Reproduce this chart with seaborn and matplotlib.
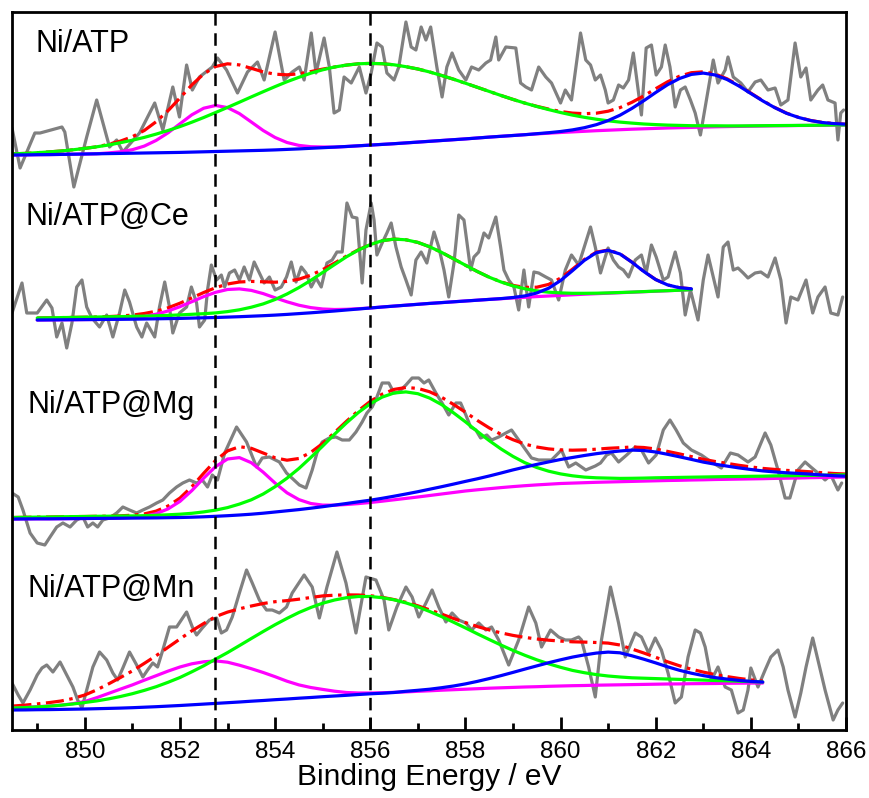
import numpy as np
import matplotlib
matplotlib.use("Agg")
import matplotlib.pyplot as plt
import seaborn as sns

# ---------------------------------------------------------------- data
STEP = 0.25  # eV sampling of the fitted curves
VLINES = [852.73, 856.0]
X_TICKS = [850, 852, 854, 856, 858, 860, 862, 864, 866]
X_MINOR = [849, 851, 853, 855, 857, 859, 861, 863, 865]
LABELS = ["Ni/ATP", "Ni/ATP@Ce", "Ni/ATP@Mg", "Ni/ATP@Mn"]

# ---- Ni/ATP : raw spectrum (binding energy, intensity)
atp_raw = [(848.47,602),(848.64,562),(848.95,597),(849.06,597),(849.52,603),(849.58,598),(849.77,543),(850.04,593),
 (850.25,630),(850.52,583),(850.67,590),(850.80,578),(851.15,597),(851.47,627),(851.64,600),(851.85,643),(851.99,613),
 (852.14,665),(852.26,640),(852.41,653),(852.68,663),(852.79,672),(852.98,660),(853.21,637),(853.42,658),(853.63,668),
 (853.77,650),(854.00,698),(854.19,650),(854.36,658),(854.51,663),(854.61,650),(854.76,697),(854.86,657),(855.03,692),
 (855.14,663),(855.24,617),(855.35,620),(855.45,653),(855.60,647),(855.77,663),(855.91,637),(856.02,657),(856.14,687),
 (856.25,683),(856.35,657),(856.50,650),(856.60,663),(856.75,708),(856.86,683),(856.96,680),(857.07,703),(857.17,690),
 (857.27,703),(857.40,663),(857.51,633),(857.61,663),(857.72,677),(857.86,660),(858.01,650),(858.13,663),(858.28,660),
 (858.43,667),(858.53,670),(858.64,693),(858.70,670),(858.85,683),(859.06,682),(859.16,647),(859.27,643),(859.39,640),
 (859.54,663),(859.69,653),(859.81,647),(860.00,627),(860.10,640),(860.23,630),(860.42,697),(860.53,670),(860.63,665),
 (860.73,650),(860.84,655),(860.94,640),(861.00,627),(861.11,630),(861.22,645),(861.32,642),(861.43,650),(861.53,677),
 (861.64,637),(861.70,615),(861.80,682),(861.91,685),(862.01,655),(862.12,663),(862.20,685),(862.30,663),(862.41,623),
 (862.52,640),(862.62,643),(862.73,630),(862.83,617),(862.94,595),(863.04,623),(863.21,670),(863.31,647),(863.46,660),
 (863.52,673),(863.63,653),(863.79,647),(863.94,638),(864.09,648),(864.21,650),(864.36,640),(864.51,642),(864.63,625),
 (864.78,630),(864.93,687),(865.05,653),(865.16,662),(865.26,630),(865.41,640),(865.51,645),(865.62,630),(865.77,627),
 (865.83,590),(865.89,617),(865.95,620)]
atp_fit_range = (848.5, 866.0)
atp_baseline = [575.0,575.1,575.3,575.4,575.6,575.8,576.0,
 576.2,576.4,576.6,576.8,577.0,577.2,577.4,577.6,
 577.9,578.2,578.5,578.8,579.1,579.4,579.7,580.1,
 580.6,581.1,581.7,582.3,582.9,583.5,584.2,584.9,
 585.6,586.3,587.1,587.9,588.7,589.5,590.3,591.1,
 592.0,592.9,593.7,594.5,595.3,596.1,596.8,597.5,
 598.1,598.7,599.3,599.8,600.3,600.8,601.2,601.6,
 602.0,602.3,602.6,602.9,603.2,603.4,603.6,603.8,
 604.0,604.2,604.3,604.5,604.6,604.7,604.9,605.0]
atp_ni0 = (850.5, [0.7,1.6,3.5,6.9,12.4,19.8,28.6,37.3,43.6,46.0,43.6,37.3,28.6,19.8,12.4,6.9,3.5,1.6,0.7])
atp_ni2 = (848.5, [1.2,1.5,2.0,2.7,3.4,4.4,5.6,7.0,8.6,10.7,
 13.0,15.6,18.7,22.1,25.8,29.9,34.3,39.0,43.8,48.7,
 53.7,58.6,63.3,67.7,71.6,75.1,77.9,80.1,81.4,82.0,
 81.7,80.7,78.9,76.2,73.1,69.3,65.0,60.5,55.7,50.7,
 45.7,40.8,36.1,31.6,27.4,23.6,20.0,16.8,14.0,11.5,
 9.4,7.6,6.1,4.8,3.8,2.9,2.3,1.7,1.3,1.0,
 0.7,0.5,0.4,0.3,0.2,0.2,0.1,0.1,0.1,0.1,0.0])
atp_sat = (859.5, [0.2,0.5,1.0,2.0,3.6,6.0,9.6,14.5,20.8,28.1,35.9,43.3,49.2,53.0,54.0,51.8,47.1,40.4,
 32.7,25.1,18.2,12.4,8.1,4.9,2.8,1.5,0.8])

# ---- Ni/ATP@Ce
ce_raw = [(848.47,417),(848.68,447),(848.78,417),(849.00,417),(849.20,430),(849.31,422),(849.41,393),(849.52,407),
 (849.62,382),(849.73,407),(849.83,443),(849.94,450),(850.04,423),(850.15,412),(850.31,403),(850.46,415),(850.59,393),
 (850.73,417),(850.84,440),(850.94,428),(851.09,403),(851.20,393),(851.30,407),(851.47,393),(851.57,423),(851.68,448),
 (851.78,423),(851.85,397),(851.99,417),(852.14,423),(852.24,443),(852.35,427),(852.41,403),(852.52,410),(852.58,440),
 (852.66,465),(852.77,450),(852.87,455),(852.94,443),(853.04,457),(853.15,460),(853.25,450),(853.35,463),(853.46,450),
 (853.56,468),(853.67,457),(853.77,447),(853.88,453),(854.00,440),(854.13,443),(854.24,453),(854.34,468),(854.44,448),
 (854.55,463),(854.65,457),(854.76,443),(854.86,452),(854.97,443),(855.09,467),(855.20,470),(855.30,478),(855.41,478),
 (855.51,527),(855.62,513),(855.72,512),(855.83,447),(855.91,500),(856.02,527),(856.08,510),(856.14,475),(856.25,487),
 (856.35,497),(856.44,507),(856.54,483),(856.65,463),(856.75,450),(856.86,435),(856.96,470),(857.07,478),(857.19,467),
 (857.34,498),(857.44,483),(857.55,460),(857.65,433),(857.76,467),(857.86,515),(857.97,510),(858.11,460),(858.18,473),
 (858.28,478),(858.39,497),(858.49,492),(858.64,513),(858.74,483),(858.81,460),(858.91,450),(859.02,443),(859.12,420),
 (859.23,460),(859.33,423),(859.44,458),(859.54,457),(859.69,453),(859.81,450),(859.96,430),(860.10,460),(860.23,475),
 (860.38,465),(860.63,503),(860.73,483),(860.84,457),(860.94,473),(861.00,482),(861.11,470),(861.22,463),(861.32,460),
 (861.43,453),(861.57,470),(861.70,475),(861.80,457),(861.91,485),(862.01,473),(862.16,450),(862.26,453),(862.41,478),
 (862.52,457),(862.62,415),(862.73,440),(862.89,410),(863.00,450),(863.10,475),(863.21,453),(863.31,433),(863.42,483),
 (863.52,488),(863.63,460),(863.73,462),(863.84,457),(863.94,452),(864.09,457),(864.21,458),(864.36,453),(864.51,472),
 (864.63,450),(864.74,407),(864.84,433),(864.99,430),(865.16,450),(865.30,417),(865.41,433),(865.56,443),(865.68,417),
 (865.83,415),(865.93,433)]
ce_fit_range = (849.0, 862.75)
ce_baseline = [410.0,410.1,410.2,410.3,410.4,
 410.5,410.6,410.7,410.8,411.0,411.2,411.4,411.6,
 411.9,412.2,412.5,412.9,413.3,413.8,414.3,414.9,
 415.6,416.4,417.2,418.1,419.0,420.0,421.0,422.0,
 423.0,423.9,424.8,425.7,426.6,427.4,428.2,429.0,
 429.8,430.6,431.3,432.0,432.7,433.4,434.0,434.6,
 435.2,435.8,436.3,436.8,437.3,437.8,438.3,438.8,
 439.3,439.8,440.3]
ce_ni0 = (850.5, [0.2,0.6,1.3,2.6,4.6,7.6,11.7,16.4,21.2,25.2,27.6,27.8,25.8,22.1,17.3,12.6,8.4,5.2,2.9,1.5,0.7,0.3])
ce_ni2 = (849.0, [2.0,2.1,2.2,2.3,2.4,2.5,2.6,2.7,2.8,2.9,
 3.0,3.2,3.5,3.8,4.1,4.6,5.5,6.9,9.0,11.8,
 15.6,20.4,26.0,32.4,39.4,46.4,53.2,58.9,63.4,66.3,
 67.0,65.4,61.9,56.6,50.2,43.0,35.8,28.7,22.2,16.7,
 12.1,8.5,5.8,3.8,2.5,1.5,0.9,0.5,0.3,0.2,
 0.1,0.1,0.1,0.0,0.0,0.0])
ce_sat = (858.75, [0.1,0.5,1.4,3.6,7.8,14.8,24.1,33.8,41.0,42.9,38.7,30.0,20.2,11.6,5.8,2.5,0.9])

# ---- Ni/ATP@Mg
mg_raw = [(848.47,237),(848.60,233),(848.70,220),(848.85,197),(849.00,187),(849.16,185),(849.27,193),(849.41,203),
 (849.54,207),(849.69,203),(849.83,210),(849.96,213),(850.06,203),(850.17,207),(850.27,203),(850.38,210),(850.52,212),
 (850.67,217),(850.80,223),(850.94,220),(851.09,217),(851.22,220),(851.36,223),(851.51,227),(851.64,230),(851.78,237),
 (851.93,243),(852.06,247),(852.20,250),(852.35,247),(852.47,250),(852.58,243),(852.68,255),(852.79,250),(852.94,277),
 (853.19,303),(853.40,288),(853.61,263),(853.73,272),(853.88,273),(854.09,268),(854.24,257),(854.51,245),(854.65,242),
 (854.78,260),(854.88,277),(854.99,288),(855.14,292),(855.28,293),(855.41,290),(855.56,290),(855.70,298),(855.83,308),
 (855.93,317),(856.04,323),(856.14,333),(856.25,347),(856.39,347),(856.50,337),(856.60,338),(856.75,345),(856.88,352),
 (857.02,352),(857.13,347),(857.23,350),(857.38,337),(857.51,327),(857.65,315),(857.80,327),(857.90,327),(858.01,315),
 (858.11,303),(858.22,300),(858.32,292),(858.45,295),(858.55,290),(858.70,293),(858.85,297),(858.97,300),(859.12,290),
 (859.27,280),(859.39,272),(859.54,270),(859.69,270),(859.81,270),(860.02,280),(860.17,263),(860.32,267),(860.53,260),
 (860.73,264),(860.84,267),(860.97,275),(861.07,277),(861.22,268),(861.39,275),(861.57,283),(861.70,280),(861.85,267),
 (862.01,275),(862.16,300),(862.30,310),(862.43,300),(862.58,287),(862.75,280),(862.96,275),(863.17,268),(863.38,262),
 (863.57,277),(863.73,275),(863.94,268),(864.09,273),(864.30,297),(864.42,285),(864.57,260),(864.72,232),(864.82,232),
 (864.99,260),(865.14,268),(865.26,263),(865.41,257),(865.56,250),(865.68,255),(865.83,240),(865.91,247)]
mg_fit_range = (848.5, 866.0)
mg_baseline = [211.0,211.1,211.2,211.2,211.3,211.4,211.5,
 211.6,211.7,211.8,211.9,212.0,212.1,212.3,212.5,
 212.8,213.2,213.7,214.3,215.0,215.8,216.8,218.0,
 219.2,220.4,221.6,222.8,224.0,225.2,226.4,227.5,
 228.8,230.2,231.6,233.0,234.5,236.0,237.5,239.0,
 240.2,241.3,242.4,243.4,244.3,245.1,245.8,246.5,
 246.9,247.3,247.7,248.0,248.3,248.6,248.9,249.2,
 249.5,249.7,250.0,250.2,250.5,250.7,250.9,251.1,
 251.3,251.6,251.8,252.0,252.3,252.5,252.8,253.0]
mg_ni0 = (850.75, [0.2,0.7,1.8,4.2,8.8,16.1,26.6,38.7,49.7,56.7,57.4,51.5,41.0,28.9,18.0,10.0,4.9,2.1,0.8,0.3])
mg_ni2 = (848.5, [1.5,1.6,1.7,1.8,1.9,2.0,2.0,2.1,2.1,2.2,
 2.2,2.3,2.6,2.9,3.3,3.9,4.9,6.2,8.1,10.9,
 14.4,19.2,25.3,32.6,41.1,50.9,61.1,71.8,81.9,91.1,
 98.8,104.1,106.8,106.5,103.3,97.4,89.4,79.7,69.2,58.4,
 48.1,38.6,30.2,23.0,17.4,13.0,9.6,7.3,5.6,4.5,
 3.9,3.3,3.1,3.0,3.0,2.9,2.9,2.8,2.8,2.7,
 2.7,2.6,2.6,2.5,2.5,2.4,2.4,2.3,2.3,2.2,2.2])
mg_sat = (854.5, [0.0,0.2,0.5,0.9,1.3,1.8,2.3,2.9,3.6,4.4,
 5.3,6.3,7.3,8.4,9.6,11.0,12.7,14.6,16.7,18.6,
 20.5,22.3,24.0,25.6,27.2,28.6,29.8,30.7,31.3,30.6,
 28.8,26.2,23.5,20.6,17.7,15.3,13.2,11.2,9.4,7.8,
 6.5,5.4,4.6,3.6,2.5,1.5,0.8])

# ---- Ni/ATP@Mn
mn_raw = [(848.47,47),(848.60,35),(848.70,27),(848.85,40),(849.00,55),(849.10,62),(849.20,65),(849.33,58),(849.48,68),
 (849.62,55),(849.75,43),(849.85,30),(849.94,22),(850.04,40),(850.17,63),(850.31,78),(850.46,70),(850.59,57),(850.69,50),
 (850.80,62),(850.94,78),(851.09,65),(851.22,53),(851.32,60),(851.43,67),(851.53,63),(851.64,80),(851.78,103),(851.93,103),
 (852.14,118),(852.26,103),(852.35,95),(852.47,102),(852.62,110),(852.77,112),(852.87,97),(852.98,100),(853.10,113),
 (853.25,137),(853.40,160),(853.52,147),(853.67,130),(853.82,120),(853.94,120),(854.09,117),(854.24,123),(854.36,137),
 (854.61,155),(854.78,143),(854.93,112),(855.09,143),(855.30,178),(855.49,147),(855.70,97),(855.91,153),(856.12,150),
 (856.29,130),(856.39,100),(856.56,123),(856.75,143),(856.88,133),(857.02,113),(857.17,127),(857.30,140),(857.44,123),
 (857.59,108),(857.72,117),(857.86,110),(858.01,107),(858.13,100),(858.28,107),(858.43,100),(858.55,103),(858.70,90),
 (858.91,65),(859.12,90),(859.33,123),(859.48,107),(859.60,83),(859.79,100),(859.96,93),(860.10,90),(860.23,90),
 (860.38,93),(860.44,90),(860.59,63),(860.73,33),(860.86,90),(861.05,143),(861.22,107),(861.36,73),(861.57,97),
 (861.70,93),(861.85,77),(861.99,92),(862.12,80),(862.26,57),(862.41,27),(862.54,33),(862.68,73),(862.83,100),
 (862.94,97),(863.04,83),(863.17,50),(863.31,63),(863.46,43),(863.59,40),(863.73,17),(863.84,20),(863.94,40),
 (864.00,62),(864.15,43),(864.30,60),(864.42,73),(864.57,80),(864.68,63),(864.78,40),(864.93,13),(865.05,37),
 (865.16,63),(865.30,92),(865.41,70),(865.56,40),(865.73,10),(865.83,20),(865.93,27)]
mn_fit_range = (848.5, 864.25)
mn_baseline = [20.0,20.1,20.3,20.4,20.6,20.8,21.0,
 21.3,21.6,21.9,22.3,22.8,23.3,23.9,24.5,
 25.2,25.9,26.6,27.3,28.0,28.8,29.5,30.3,
 31.0,31.8,32.5,33.3,34.0,34.7,35.5,36.2,
 36.8,37.5,38.1,38.7,39.2,39.8,40.3,40.8,
 41.3,41.8,42.2,42.6,43.0,43.3,43.7,44.0,
 44.3,44.5,44.8,45.0,45.2,45.4,45.6,45.8,
 46.0,46.1,46.3,46.4,46.5,46.7,46.8,46.9,47.0]
mn_ni0 = (848.5, [2.0,2.5,3.0,3.6,4.2,5.5,7.5,11.0,15.0,19.0,
 22.8,27.0,31.0,35.0,38.5,41.0,42.3,42.5,40.5,36.8,
 32.5,28.0,23.0,17.8,13.3,10.0,7.3,4.8,2.8,1.5,
 0.8,0.4,0.2])
mn_ni2 = (848.5, [2.0,2.3,2.8,3.4,4.2,5.2,6.5,7.8,9.5,11.6,
 14.0,16.8,20.0,23.8,28.0,33.0,38.3,44.3,50.1,56.4,
 62.7,69.0,75.0,80.6,85.7,90.0,93.5,96.0,97.6,98.0,
 97.3,95.5,92.7,89.0,84.5,79.3,73.6,67.5,61.3,54.9,
 48.7,42.7,37.0,31.7,26.9,22.5,18.7,15.3,12.8,10.6,
 9.0,7.8,6.8,6.2,5.6,5.0,4.5,4.0,3.5,3.0,
 2.5,2.0,1.5,1.0])
mn_sat = (856.75, [0.6,1.0,1.6,2.5,3.7,5.3,7.3,9.6,12.2,15.0,
 17.9,20.8,23.6,26.2,28.6,30.6,32.1,32.9,32.0,28.8,
 25.2,21.3,17.2,13.6,10.5,8.0,5.9,4.2,2.8,1.7,1.0])

PANELS = [
    (atp_raw, atp_fit_range, atp_baseline, atp_ni0, atp_ni2, atp_sat),
    (ce_raw, ce_fit_range, ce_baseline, ce_ni0, ce_ni2, ce_sat),
    (mg_raw, mg_fit_range, mg_baseline, mg_ni0, mg_ni2, mg_sat),
    (mn_raw, mn_fit_range, mn_baseline, mn_ni0, mn_ni2, mn_sat),
]

# ---------------------------------------------------------------- style
sns.set_style("white")
plt.rcParams["font.family"] = ["Liberation Sans", "DejaVu Sans"]
for k in ["text.color", "axes.labelcolor", "xtick.color", "ytick.color", "axes.edgecolor"]:
    plt.rcParams[k] = "black"

W, H = 869, 798
fig = plt.figure(figsize=(W / 100, H / 100), dpi=100)
ax = fig.add_axes([12 / W, 68 / H, 834 / W, 718 / H])

GRAY, MAG, GRN, BLU, RED = "#808080", "#FF00FF", "#00FF00", "#0000FF", "#FF0000"
LW = 2.3
RED_DASH = (0, (13 / LW, 4 / LW, 2.5 / LW, 4 / LW))
V_DASH = (0, (9 / 1.8, 5.5 / 1.8))


def place(grid, comp):
    start, vals = comp
    arr = np.zeros(len(grid))
    i0 = int(round((start - grid[0]) / STEP))
    n = min(len(vals), len(grid) - i0)
    arr[i0:i0 + n] = vals[:n]
    return arr


def draw(x, y, color, lw, z, ls="-"):
    sns.lineplot(x=np.asarray(x), y=np.asarray(y), color=color, linewidth=lw,
                 estimator=None, sort=False, legend=False, ax=ax, zorder=z)
    line = ax.lines[-1]
    line.set_linestyle(ls)
    return line


for raw, (lo, hi), base, ni0, ni2, sat in PANELS:
    e, c = zip(*raw)
    draw(e, c, GRAY, LW, 2)
    grid = np.arange(lo, hi + STEP / 2, STEP)
    base = np.asarray(base, dtype=float)
    assert len(base) == len(grid), (len(base), len(grid))
    p0, p2, ps = place(grid, ni0), place(grid, ni2), place(grid, sat)
    draw(grid, base + p0 + p2 + ps, RED, LW, 3, ls=RED_DASH)
    draw(grid, base + p0, MAG, LW, 4)
    draw(grid, base + p2, GRN, LW, 5)
    draw(grid, base + ps, BLU, LW, 6)

for v in VLINES:
    ax.axvline(v, color="black", lw=1.8, zorder=8, linestyle=V_DASH)

ax.set_xlim(848.47, 866.0)
ax.set_ylim(0, 718)
ax.set_yticks([])
ax.set_xticks(X_TICKS)
ax.set_xticks(X_MINOR, minor=True)
ax.xaxis.set_ticks_position("bottom")
ax.tick_params(axis="x", which="both", direction="in", length=0, labelsize=17.5, pad=8,
               colors="black")
# inward tick marks on the bottom axis (in axes-height units)
xaxis_tf = ax.get_xaxis_transform()
ax.vlines(X_TICKS, 0, 13 / 718, transform=xaxis_tf, colors="black", linewidth=2.0,
          zorder=10, clip_on=False)
ax.vlines(X_MINOR, 0, 7 / 718, transform=xaxis_tf, colors="black", linewidth=2.0,
          zorder=10, clip_on=False)
for s in ax.spines.values():
    s.set_linewidth(2.0)
    s.set_color("black")
    s.set_zorder(11)
ax.set_xlabel("Binding Energy / eV", fontsize=21.5, labelpad=0, color="black")
ax.set_ylabel("")

label_pos = [(0.0276, 0.944), (0.0156, 0.703), (0.018, 0.4415), (0.018, 0.185)]
for txt, (tx, ty) in zip(LABELS, label_pos):
    ax.text(tx, ty, txt, transform=ax.transAxes, fontsize=22, va="baseline", ha="left",
            color="black")

fig.savefig("out.png", dpi=100)
